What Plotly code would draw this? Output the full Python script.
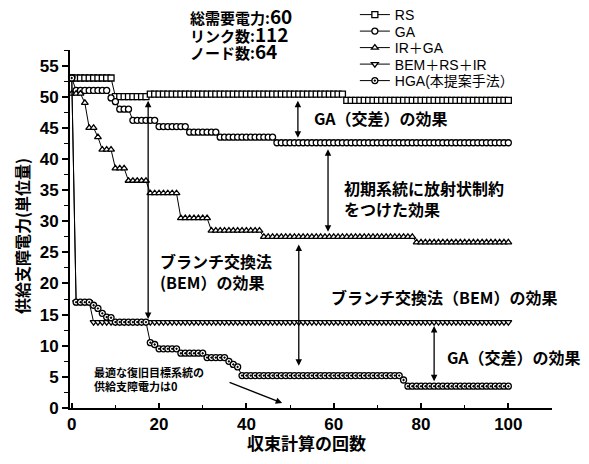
import plotly.graph_objects as go

iterations = list(range(101))

rs = [53, 53, 53, 53, 53, 53, 53, 53, 53, 53,
      50.0, 50.0, 50.0, 50.0, 50.0, 50.0, 50.0, 50.0,
      50.4, 50.4, 50.4, 50.4, 50.4, 50.4, 50.4, 50.4, 50.4, 50.4,
      50.4, 50.4, 50.4, 50.4, 50.4, 50.4, 50.4, 50.4, 50.4, 50.4,
      50.4, 50.4, 50.4, 50.4, 50.4, 50.4, 50.4, 50.4, 50.4, 50.4,
      50.4, 50.4, 50.4, 50.4, 50.4, 50.4, 50.4, 50.4, 50.4, 50.4,
      50.4, 50.4, 50.4, 50.4, 50.4,
      49.4, 49.4, 49.4, 49.4, 49.4, 49.4, 49.4, 49.4, 49.4, 49.4,
      49.4, 49.4, 49.4, 49.4, 49.4, 49.4, 49.4, 49.4, 49.4, 49.4,
      49.4, 49.4, 49.4, 49.4, 49.4, 49.4, 49.4, 49.4, 49.4, 49.4,
      49.4, 49.4, 49.4, 49.4, 49.4, 49.4, 49.4, 49.4]

ga = [53, 51, 51, 51, 51, 51, 51, 51, 51, 49.8, 49.2,
      48, 48, 48,
      46.2, 46.2, 46.2, 46.2, 46.2, 46.2,
      45.2, 45.2, 45.2, 45.2, 45.2, 45.2, 45.2,
      44.3, 44.3, 44.3, 44.3, 44.3, 44.3, 44.3,
      43.5, 43.5, 43.5, 43.5, 43.5, 43.5, 43.5, 43.5, 43.5, 43.5, 43.5, 43.5, 43.5,
      42.6, 42.6, 42.6, 42.6, 42.6, 42.6, 42.6, 42.6, 42.6, 42.6,
      42.6, 42.6, 42.6, 42.6, 42.6, 42.6, 42.6, 42.6, 42.6, 42.6,
      42.6, 42.6, 42.6, 42.6, 42.6, 42.6, 42.6, 42.6, 42.6, 42.6,
      42.6, 42.6, 42.6, 42.6, 42.6, 42.6, 42.6, 42.6, 42.6, 42.6,
      42.6, 42.6, 42.6, 42.6, 42.6, 42.6, 42.6, 42.6, 42.6, 42.6,
      42.6, 42.6, 42.6, 42.6]

ir_ga = [50.5, 50.5, 50.5, 49, 45, 45, 43.5, 41.5, 41.5, 41.5,
         38.5, 38.5, 38.5,
         36.5, 36.5, 36.5, 36.5, 36.5,
         34.5, 34.5, 34.5, 34.5, 34.5, 34.5, 34.5,
         30.5, 30.5, 30.5, 30.5, 30.5, 30.5, 30.5,
         28.5, 28.5, 28.5, 28.5, 28.5, 28.5, 28.5, 28.5, 28.5, 28.5, 28.5, 28.5,
         27.5, 27.5, 27.5, 27.5, 27.5, 27.5, 27.5, 27.5, 27.5, 27.5,
         27.5, 27.5, 27.5, 27.5, 27.5, 27.5, 27.5, 27.5, 27.5, 27.5,
         27.5, 27.5, 27.5, 27.5, 27.5, 27.5, 27.5, 27.5, 27.5, 27.5,
         27.5, 27.5, 27.5, 27.5, 27.5,
         26.6, 26.6, 26.6, 26.6, 26.6, 26.6, 26.6, 26.6, 26.6, 26.6,
         26.6, 26.6, 26.6, 26.6, 26.6, 26.6, 26.6, 26.6, 26.6, 26.6,
         26.6, 26.6]

bem_rs_ir = [53, 17, 17, 17, 17,
             13.8, 13.8, 13.8, 13.8, 13.8, 13.8, 13.8, 13.8, 13.8, 13.8,
             13.8, 13.8, 13.8, 13.8, 13.8, 13.8, 13.8, 13.8, 13.8, 13.8,
             13.8, 13.8, 13.8, 13.8, 13.8, 13.8, 13.8, 13.8, 13.8, 13.8,
             13.8, 13.8, 13.8, 13.8, 13.8, 13.8, 13.8, 13.8, 13.8, 13.8,
             13.8, 13.8, 13.8, 13.8, 13.8, 13.8, 13.8, 13.8, 13.8, 13.8,
             13.8, 13.8, 13.8, 13.8, 13.8, 13.8, 13.8, 13.8, 13.8, 13.8,
             13.8, 13.8, 13.8, 13.8, 13.8, 13.8, 13.8, 13.8, 13.8, 13.8,
             13.8, 13.8, 13.8, 13.8, 13.8, 13.8, 13.8, 13.8, 13.8, 13.8,
             13.8, 13.8, 13.8, 13.8, 13.8, 13.8, 13.8, 13.8, 13.8, 13.8,
             13.8, 13.8, 13.8, 13.8, 13.8, 13.8]

hga = [53, 17, 17, 17, 17, 16.5, 16, 15.2, 14.6, 14.5,
       13.8, 13.8, 13.8, 13.8, 13.8, 13.8, 13.8, 13.8,
       10.5, 10.2, 9.5, 9.5, 9.5, 9.5, 9.5,
       8.8, 8.8, 8.8, 8.8, 8.8, 8.8,
       8.1, 8.1, 8.1, 8.1, 8.1,
       7.5, 7.0, 6.6,
       5.2, 5.2, 5.2, 5.2, 5.2, 5.2, 5.2, 5.2, 5.2, 5.2,
       5.2, 5.2, 5.2, 5.2, 5.2, 5.2, 5.2, 5.2, 5.2, 5.2,
       5.2, 5.2, 5.2, 5.2, 5.2, 5.2, 5.2, 5.2, 5.2, 5.2,
       5.2, 5.2, 5.2, 5.2, 5.2, 5.2, 5.2,
       4.5,
       3.5, 3.5, 3.5, 3.5, 3.5, 3.5, 3.5, 3.5, 3.5, 3.5,
       3.5, 3.5, 3.5, 3.5, 3.5, 3.5, 3.5, 3.5, 3.5, 3.5,
       3.5, 3.5, 3.5, 3.5]

series_names = ["RS", "GA", "IR＋GA", "BEM＋RS＋IR", "HGA(本提案手法）"]
x_tick_vals = [0, 20, 40, 60, 80, 100]
y_tick_vals = [0, 5, 10, 15, 20, 25, 30, 35, 40, 45, 50, 55]

LAT = "Liberation Sans, Arial, sans-serif"
JP = "Noto Sans CJK JP, Liberation Sans, sans-serif"
MIX = "Liberation Sans, Noto Sans CJK JP, sans-serif"

fig = go.Figure()
symbols = ["square", "circle", "triangle-up", "triangle-down", "circle-dot"]
legend_ids = ["legend", "legend2", "legend3", "legend4", "legend5"]
for name, vals, sym, lg in zip(series_names, [rs, ga, ir_ga, bem_rs_ir, hga], symbols, legend_ids):
    fig.add_trace(go.Scatter(
        x=iterations, y=vals, name=name, mode="lines+markers",
        line=dict(color="black", width=1),
        marker=dict(symbol=sym, size=6, color="white",
                    line=dict(color="black", width=1.3)),
        cliponaxis=False, legend=lg,
    ))

annotations = []

def varrow(x, y_top, y_bot, both=True):
    return dict(x=x, y=y_bot, ax=x, ay=y_top, xref="x", yref="y",
                axref="x", ayref="y", text="", showarrow=True,
                arrowhead=2, startarrowhead=2,
                arrowside="end+start" if both else "end",
                arrowsize=1, arrowwidth=1.3, arrowcolor="black",
                standoff=0, startstandoff=0)

annotations.append(varrow(17.5, 49.6, 14.3))
annotations.append(varrow(51.8, 49.6, 43.4))
annotations.append(varrow(58.7, 41.8, 28.3))
annotations.append(varrow(52.0, 26.5, 6.8))
annotations.append(varrow(83.0, 13.4, 4.3))
annotations.append(dict(x=48.2, y=0.8, ax=35.8, ay=4.2, xref="x", yref="y",
                        axref="x", ayref="y", text="", showarrow=True,
                        arrowhead=2, arrowsize=1, arrowwidth=1.3,
                        arrowcolor="black", standoff=0, startstandoff=0))

def label(x, y, text, size=16, xanchor="left", ref="x"):
    return dict(x=x, y=y, xref="x" if ref == "x" else "paper",
                yref="y" if ref == "x" else "paper", text=text, showarrow=False,
                xanchor=xanchor, yanchor="middle", align="left",
                font=dict(family=JP, size=size, color="black", weight="bold"))

annotations.append(label(55.0, 46.5, "GA（交差）の効果"))
annotations.append(label(62.0, 33.6, "初期系統に放射状制約<br>をつけた効果"))
annotations.append(label(19.8, 22.0, "ブランチ交換法<br>(BEM）の効果"))
annotations.append(label(59.0, 17.8, "ブランチ交換法（BEM）の効果"))
annotations.append(label(85.6, 8.2, "GA（交差）の効果"))
annotations.append(label(4.6, 4.6, "最適な復旧目標系統の<br>供給支障電力は0", size=11))

info_text = ('<span style="font-size:15px">総需要電力:</span><span style="font-size:19px">60</span><br>'
             '<span style="font-size:15px">リンク数:</span><span style="font-size:19px">112</span><br>'
             '<span style="font-size:15px">ノード数:</span><span style="font-size:19px">64</span>')
annotations.append(label(0.245, 1.047, info_text, size=13.5, ref="paper"))

# axis titles
annotations.append(dict(x=0.49, y=-0.095, xref="paper", yref="paper",
                        text="収束計算の回数", showarrow=False,
                        xanchor="center", yanchor="middle",
                        font=dict(family=JP, size=17, color="black", weight="bold")))
annotations.append(dict(x=-0.1, y=0.48, xref="paper", yref="paper",
                        text="供給支障電力(単位量)", showarrow=False, textangle=-90,
                        xanchor="center", yanchor="middle",
                        font=dict(family=JP, size=16, color="black", weight="bold")))

tick_font = dict(family=LAT, size=17, color="black", weight="bold")
axis_common = dict(showline=True, linewidth=2, linecolor="black", mirror=False,
                   showgrid=False, zeroline=False, tickwidth=1.5, tickcolor="black",
                   tickfont=tick_font)

legend_rows_px = [15, 31.5, 48, 64.5, 81]
legend_layouts = {}
for lg, py in zip(legend_ids, legend_rows_px):
    legend_layouts[lg] = dict(x=0.591, y=(408 - py) / 358, xanchor="left", yanchor="middle",
                              bgcolor="rgba(0,0,0,0)", borderwidth=0,
                              font=dict(family=MIX, size=14, color="black"),
                              itemwidth=30)

# page body has an 8px default margin, so the figure margins are shifted by 8px
fig.update_layout(
    width=589, height=464,
    margin=dict(l=62, r=45, t=42, b=64, autoexpand=False),
    paper_bgcolor="white", plot_bgcolor="white",
    showlegend=True,
    xaxis=dict(range=[-0.4, 110], tickvals=x_tick_vals, ticks="inside", ticklen=5,
               minor=dict(dtick=10, ticklen=3, tickwidth=1.2, tickcolor="black", ticks="inside"),
               **axis_common),
    yaxis=dict(range=[0, 57.5], tickvals=y_tick_vals, ticks="outside", ticklen=6,
               minor=dict(dtick=2.5, ticklen=4, tickwidth=1.2, tickcolor="black", ticks="outside"),
               **axis_common),
    annotations=annotations,
    **legend_layouts,
)

fig.write_html("out.html")
